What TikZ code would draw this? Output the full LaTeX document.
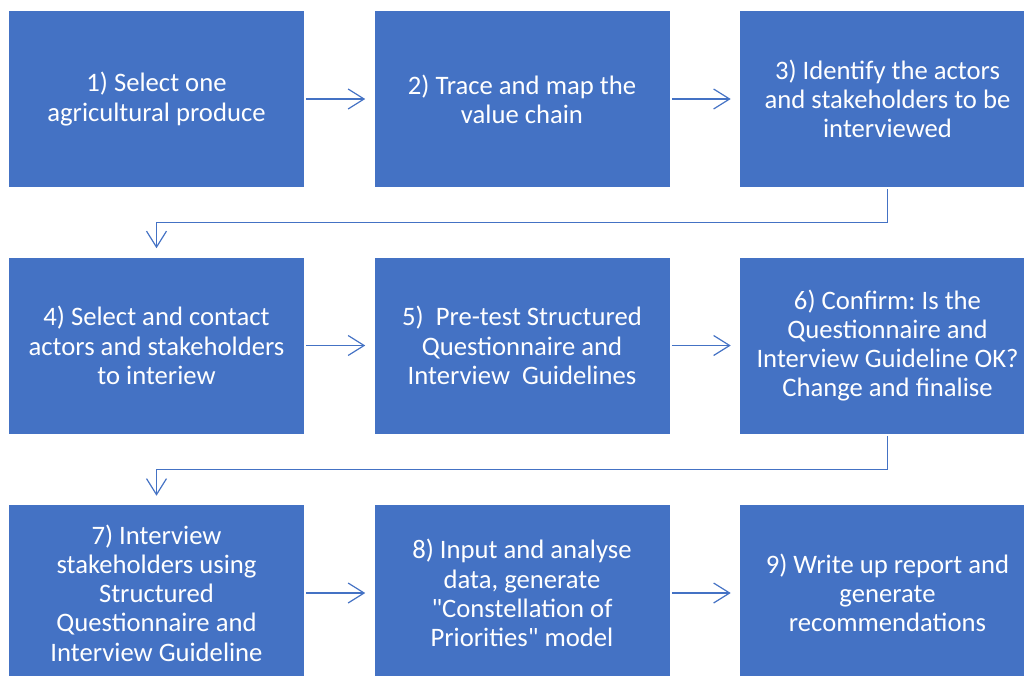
\documentclass[tikz,border=0pt]{standalone}
\usepackage{fontspec}
\setmainfont{Carlito}[Ligatures=TeXOff]
\usepackage{xcolor}
\usetikzlibrary{arrows.meta}
\frenchspacing

\definecolor{boxblue}{HTML}{4472C4}

\begin{document}
\begin{tikzpicture}[x=0.75pt, y=0.75pt,
	box/.style={fill=boxblue, text=white, inner sep=0pt, align=center,
		minimum width=221.25pt, minimum height=132pt,
		font=\fontsize{20}{21.9}\selectfont},
	flow/.style={-{Straight Barb[length=12pt, width=15pt]}, draw=boxblue,
		line width=0.9pt, shorten <=1.5pt, shorten >=6.75pt}]
				\useasboundingbox (0,0) rectangle (1024,-675);
				\clip (0,0) rectangle (1024,-675);
				% first row
				\node[box] (s1) at (156.5, -99) {1) Select one\\agricultural produce};
				\node[box] (s2) at (522.0, -99) {2) Trace and map the\\value chain};
				\node[box] (s3) at (887.5, -99) {3) Identify the actors\\and stakeholders to be\\interviewed};
				% second row
				\node[box] (s4) at (156.5, -345.5) {4) Select and contact\\actors and stakeholders\\to interiew};
				\node[box] (s5) at (522.0, -345.5) {5)~ Pre-test Structured\\Questionnaire and\\Interview~ Guidelines};
				\node[box] (s6) at (887.5, -345.5) {6) Confirm: Is the\\Questionnaire and\\Interview Guideline OK?\\Change and finalise};
				% third row
				\node[box] (s7) at (156.5, -593) {7) Interview\\stakeholders using\\Structured\\Questionnaire and\\Interview Guideline};
				\node[box] (s8) at (522.0, -593) {8) Input and analyse\\data, generate\\"Constellation of\\Priorities" model};
				\node[box] (s9) at (887.5, -593) {9) Write up report and\\generate\\recommendations};
				\draw[flow] (s1) to (s2);
				\draw[flow] (s2) to (s3);
				\draw[flow] (s3.south) -- ++(0,-35.5) -| (s4.north);
				\draw[flow] (s4) to (s5);
				\draw[flow] (s5) to (s6);
				\draw[flow] (s6.south) -- ++(0,-35.5) -| (s7.north);
				\draw[flow] (s7) to (s8);
				\draw[flow] (s8) to (s9);
			\end{tikzpicture}
\end{document}
